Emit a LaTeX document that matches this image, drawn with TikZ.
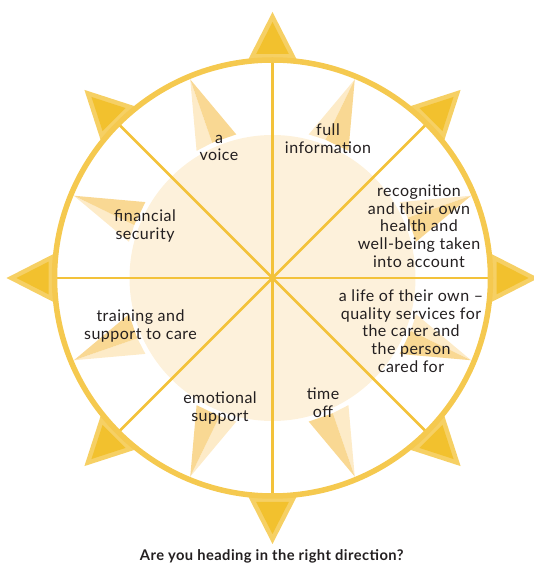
\documentclass[tikz,border=0pt]{standalone}
\usepackage{fontspec}
\setmainfont{Lato}[LetterSpace=3]
\definecolor{ringcol}{HTML}{F5C94F}
\definecolor{linecol}{HTML}{F3C23A}
\definecolor{triout}{HTML}{F6D064}
\definecolor{triin}{HTML}{F2C12E}
\definecolor{diskcol}{HTML}{FDF1DB}
\definecolor{spklight}{HTML}{FDEBC8}
\definecolor{spkdark}{HTML}{F9D893}
\definecolor{txtcol}{HTML}{231F20}
\tikzset{
  lbl/.style={align=center, text=txtcol, inner sep=0pt,
    font=\fontsize{16}{17.7}\selectfont},
  titlelbl/.style={text=txtcol, inner sep=0pt, anchor=base,
    font=\fontsize{14.7}{18}\selectfont\bfseries},
  secline/.style={draw=linecol, line width=2.6pt},
  ringline/.style={draw=ringcol, line width=5.5pt}
}
\begin{document}
\begin{tikzpicture}[x=1pt,y=1pt]
\useasboundingbox (0,0) rectangle (534,564);
\clip (0,0) rectangle (534,564);
\begin{scope}[shift={(272.5,286)}]
  \fill[diskcol] (0,0) circle (143);
  \foreach \t in {22.5,67.5,...,337.5}{
    \begin{scope}[rotate=\t]
      \fill[spklight] (215,0) -- (146.5,21.5) -- (148,4) -- cycle;
      \fill[spkdark] (215,0) -- (148,4) -- (146.5,-21.5) -- cycle;
    \end{scope}
  }
  \foreach \t in {0,45,...,315}{
    \draw[secline] (0,0) -- (\t:218);
    \begin{scope}[rotate=\t]
      \fill[triout] (266,0) -- (219,24) -- (219,-24) -- cycle;
      \fill[triin] (256,0) -- (224,16.3) -- (224,-16.3) -- cycle;
    \end{scope}
  }
  \draw[ringline] (0,0) circle (218);
\end{scope}
\node[lbl] (voice) at (219,416) {a\\voice};
\node[lbl] (info) at (328,425) {full\\information};
\node[lbl] (recog) at (419,338) {recognition\\and their own\\health and\\well-being taken\\into account};
\node[lbl] (finance) at (145,338) {financial\\security};
\node[lbl] (training) at (140.5,238) {training and\\support to care};
\node[lbl] (emotion) at (220,156) {emotional\\support};
\node[lbl] (timeoff) at (323,161) {time\\off};
\node[lbl] (life) at (411,233) {a life of their own --\\quality services for\\the carer and\\the person\\cared for};
\node[titlelbl] (title) at (271.7,3.6) {Are you heading in the right direction?};
\end{tikzpicture}
\end{document}
